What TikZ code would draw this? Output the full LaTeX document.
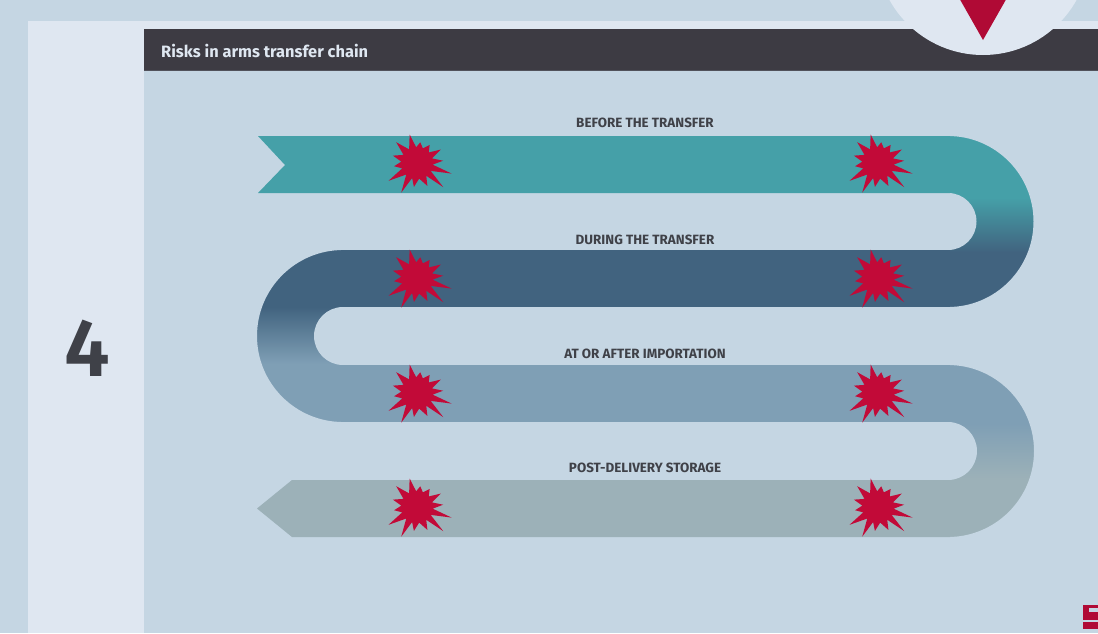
\documentclass[tikz,border=0pt]{standalone}
\usepackage{fontspec}
\setmainfont{Fira Sans}
\newfontfamily\numfont{Fira Sans SemiBold}
\usetikzlibrary{positioning}
\definecolor{RiskFondo}{HTML}{C5D6E3}
\definecolor{RiskPanel}{HTML}{DFE7F1}
\definecolor{RiskBarra}{HTML}{3D3B43}
\definecolor{RiskRojo}{HTML}{B00A35}
\definecolor{RiskBurst}{HTML}{C20A38}
\definecolor{RiskTeal}{HTML}{45A0A8}
\definecolor{RiskAzul}{HTML}{41637F}
\definecolor{RiskMedio}{HTML}{7F9FB5}
\definecolor{RiskGris}{HTML}{9CB1B8}
\definecolor{RiskTexto}{HTML}{3F4148}
\pgfdeclareverticalshading{bendA}{100bp}{color(0bp)=(RiskAzul); color(41bp)=(RiskAzul); color(57bp)=(RiskTeal); color(100bp)=(RiskTeal)}
\pgfdeclareverticalshading{bendB}{100bp}{color(0bp)=(RiskMedio); color(42bp)=(RiskMedio); color(58.5bp)=(RiskAzul); color(100bp)=(RiskAzul)}
\pgfdeclareverticalshading{bendC}{100bp}{color(0bp)=(RiskGris); color(42bp)=(RiskGris); color(58bp)=(RiskMedio); color(100bp)=(RiskMedio)}
\tikzset{
  stage/.style={font=\bfseries\fontsize{13.4}{15}\selectfont,text=RiskTexto,inner sep=0pt},
  mask/.style={fill=RiskFondo,even odd rule},
  burst/.pic={\fill[RiskBurst,scale=1.05] (-104.5:28) \foreach \a/\r in {-93/15,-81/20,-68/15,-55/21,-42/15,-29.5/26,-17/15,-5/25,6/15,17/34.5,30/15,42.6/34,54/15,65.6/24,82/15,97.4/23,108/15,118/32,133/15,148/32,160/15,172/22,185/15,197/24,211/15,225/28,240/15}{ -- (\a:\r)} -- cycle;}
}
\begin{document}
\begin{tikzpicture}[x=1pt,y=-1pt]
\useasboundingbox (0,0) rectangle (1098,633);
\clip (0,0) rectangle (1098,633);
\fill[RiskFondo] (0,0) rectangle (1098,633);
\fill[RiskPanel] (28,21) rectangle (1098,633);
\fill[RiskFondo] (144,71) rectangle (1098,633);
\fill[RiskBarra] (144,29) rectangle (1098,71);
\fill[RiskBarra!85!RiskFondo] (144,69.5) rectangle (1098,71);
\fill[RiskPanel] (983,-52) circle (107);
\fill[RiskRojo] (958,-4) -- (1008,-4) -- (983,40) -- cycle;
\node[anchor=west,inner sep=0pt,text=RiskPanel,font=\bfseries\fontsize{16.4}{18}\selectfont] (title) at (161,51) {Risks in arms transfer chain};
\node[text=RiskTexto,inner sep=0pt,font=\numfont\fontsize{82}{90}\selectfont] (number) at (87,348) {4};
% bends
\fill[shading=bendA] (948,136) rectangle (1036,307);
\fill[mask] (946,133) rectangle (1038,310) (948,136) arc (-90:90:85.5) -- (948,250) arc (90:-90:28.5) -- cycle;
\fill[shading=bendB] (254,250) rectangle (343,422);
\fill[mask] (252,247) rectangle (345,425) (343,250) arc (270:90:86) -- (343,365) arc (90:270:29) -- cycle;
\fill[shading=bendC] (948,365) rectangle (1036,537);
\fill[mask] (946,362) rectangle (1038,540) (948,365) arc (-90:90:86) -- (948,480) arc (90:-90:29) -- cycle;
% bars
\fill[RiskTeal] (258,136) -- (950,136) -- (950,193) -- (258,193) -- (285,165) -- cycle;
\fill[RiskAzul] (341,250) rectangle (950,307);
\fill[RiskMedio] (341,365) rectangle (950,422);
\fill[RiskGris] (950,480) -- (950,537) -- (292,537) -- (257,508.5) -- (292,480) -- cycle;
% labels
\node[stage] (before) at (645,123) {BEFORE THE TRANSFER};
\node[stage] (during) at (645,240) {DURING THE TRANSFER};
\node[stage] (after) at (645,354) {AT OR AFTER IMPORTATION};
\node[stage] (storage) at (645,468) {POST-DELIVERY STORAGE};
\foreach \y in {163,278,393,507}{
  \pic at (417,\y) {burst};
  \pic at (878,\y) {burst};
}
% logo
\fill[RiskRojo] (1083,605) rectangle (1098,620);
\fill[RiskFondo] (1089,608) rectangle (1098,612);
\fill[RiskRojo] (1083,622) rectangle (1098,629);
\end{tikzpicture}
\end{document}
